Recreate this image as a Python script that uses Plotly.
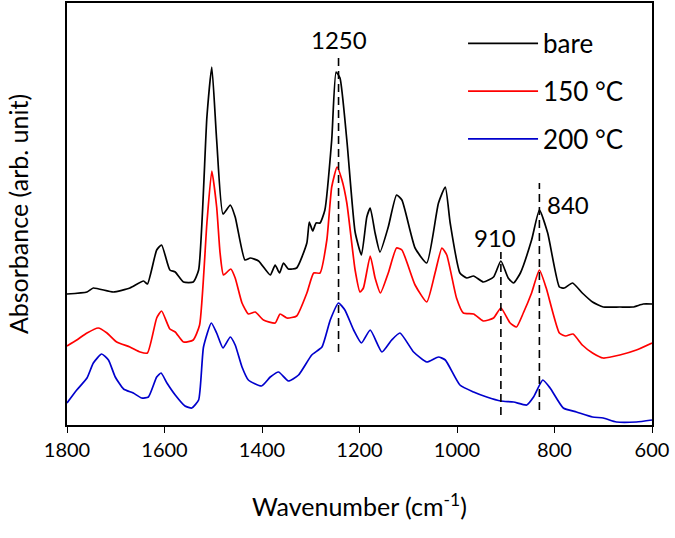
import plotly.graph_objects as go

# Wavenumber (cm^-1) and absorbance (arbitrary units, offset traces)
wn_bare = [1800,1759,1746,1705,1671,1643,1635,1616,1606,1589,1578,1561,1541,1530,1513,1503,1493,1480,1465,1455,1435,1424,1407,1383,1373,1364,1356,1346,1329,1308,1303,1296,1289,1281,1271,1257,1248,1240,1226,1209,1196,1185,1178,1168,1158,1141,1124,1113,1086,1062,1038,1024,1014,994,980,966,946,925,910,895,884,870,847,831,814,790,780,763,743,722,700,666,639,618,600]
abs_bare = [131,133,137,133,137,144,141,175,180,155,153,143,143,155,308,358,285,211,220,208,165,167,164,150,160,152,162,156,157,182,203,194,202,202,215,285,353,347,285,193,170,208,217,192,173,198,230,225,177,162,222,238,202,152,147,149,143,148,164,147,142,152,185,215,192,138,137,142,132,123,118,118,118,121,121]

wn_150 = [1800,1780,1759,1736,1718,1698,1671,1650,1635,1616,1606,1589,1578,1561,1541,1528,1513,1503,1493,1486,1479,1464,1455,1441,1428,1414,1397,1373,1363,1349,1329,1308,1294,1281,1267,1257,1246,1236,1226,1209,1199,1192,1178,1168,1157,1141,1124,1113,1086,1062,1045,1031,1021,1001,987,966,946,925,910,891,878,864,847,831,817,790,777,762,743,722,700,666,632,600]
abs_150 = [79,85,92,97,92,83,78,73,72,107,114,96,93,83,85,100,202,254,218,172,150,156,147,122,111,113,105,102,111,107,109,132,152,152,185,238,258,245,222,155,133,137,169,147,132,152,177,175,140,123,152,177,170,127,112,111,104,107,117,102,98,112,132,155,137,92,89,91,80,72,67,70,75,82]

wn_200 = [1800,1780,1759,1746,1729,1715,1701,1684,1664,1647,1633,1616,1607,1595,1578,1558,1544,1530,1520,1504,1493,1480,1465,1455,1441,1428,1401,1383,1366,1346,1325,1298,1277,1260,1243,1230,1212,1196,1178,1154,1134,1117,1089,1062,1038,1024,994,966,939,910,884,857,843,824,809,782,755,722,700,673,632,600]
abs_200 = [22,35,47,62,71,65,48,36,32,27,28,48,52,42,30,19,17,25,78,102,92,77,88,80,58,45,39,48,53,44,50,70,78,105,122,115,95,82,95,73,85,92,73,63,68,65,40,33,28,24,23,20,28,45,37,17,13,8,7,3,3,5]

series_names = ["bare", "150 °C", "200 °C"]
series_colors = ["#000000", "#ff0000", "#0000cc"]

# Peak markers: label, position, dashed-line y extent, label position
peak_labels = ["1250", "910", "840"]
peak_x = [1243, 910, 831]
peak_y0 = [73, 10, 15]
peak_y1 = [372, 173, 242]
label_x = [1243, 922, 772]
label_y = [386, 188, 221]

xticks = [1800, 1600, 1400, 1200, 1000, 800, 600]

FONT = "Lato, 'Open Sans', sans-serif"

fig = go.Figure()
for i, (x, y) in enumerate([(wn_bare, abs_bare), (wn_150, abs_150), (wn_200, abs_200)]):
    fig.add_trace(go.Scatter(
        x=x, y=y, mode="lines", name=series_names[i],
        legendgroup=str(i),
        line=dict(color=series_colors[i], width=1.7, shape="spline", smoothing=0.5),
    ))

for lab, px, y0, y1, lx, ly in zip(peak_labels, peak_x, peak_y0, peak_y1, label_x, label_y):
    fig.add_shape(type="line", xref="x", yref="y", x0=px, x1=px, y0=y0, y1=y1,
                  line=dict(color="black", width=1.6, dash="8px,5px"))
    fig.add_annotation(x=lx, y=ly, xref="x", yref="y", text=lab, showarrow=False,
                       font=dict(size=24, color="black", family=FONT))

fig.update_layout(
    width=675, height=538,
    margin=dict(l=67, r=23, t=3, b=113),
    paper_bgcolor="white", plot_bgcolor="white",
    font=dict(family=FONT, color="black"),
    showlegend=True,
    legend=dict(x=0.677, y=0.96, xanchor="left", yanchor="top",
                font=dict(size=26, family=FONT), bgcolor="rgba(0,0,0,0)",
                tracegroupgap=11, itemwidth=70),
    xaxis=dict(
        range=[1800, 600], tickvals=xticks, ticktext=[str(t) for t in xticks],
        ticks="outside", ticklen=6, tickwidth=1.2, tickcolor="black",
        showline=True, linecolor="black", linewidth=1.5, mirror=True,
        showgrid=False, zeroline=False, automargin=False,
        tickfont=dict(size=20, family=FONT),
        title=dict(text="Wavenumber (cm<sup>-1</sup>)", font=dict(size=25, family=FONT), standoff=39),
    ),
    yaxis=dict(
        range=[0, 422], showticklabels=False, ticks="",
        showline=True, linecolor="black", linewidth=1.5, mirror=True,
        showgrid=False, zeroline=False, automargin=False,
        title=dict(text="Absorbance (arb. unit)", font=dict(size=25, family=FONT), standoff=30),
    ),
)

fig.write_html("out.html", config={"displayModeBar": False},
               post_script="document.body.style.margin='0px';")
